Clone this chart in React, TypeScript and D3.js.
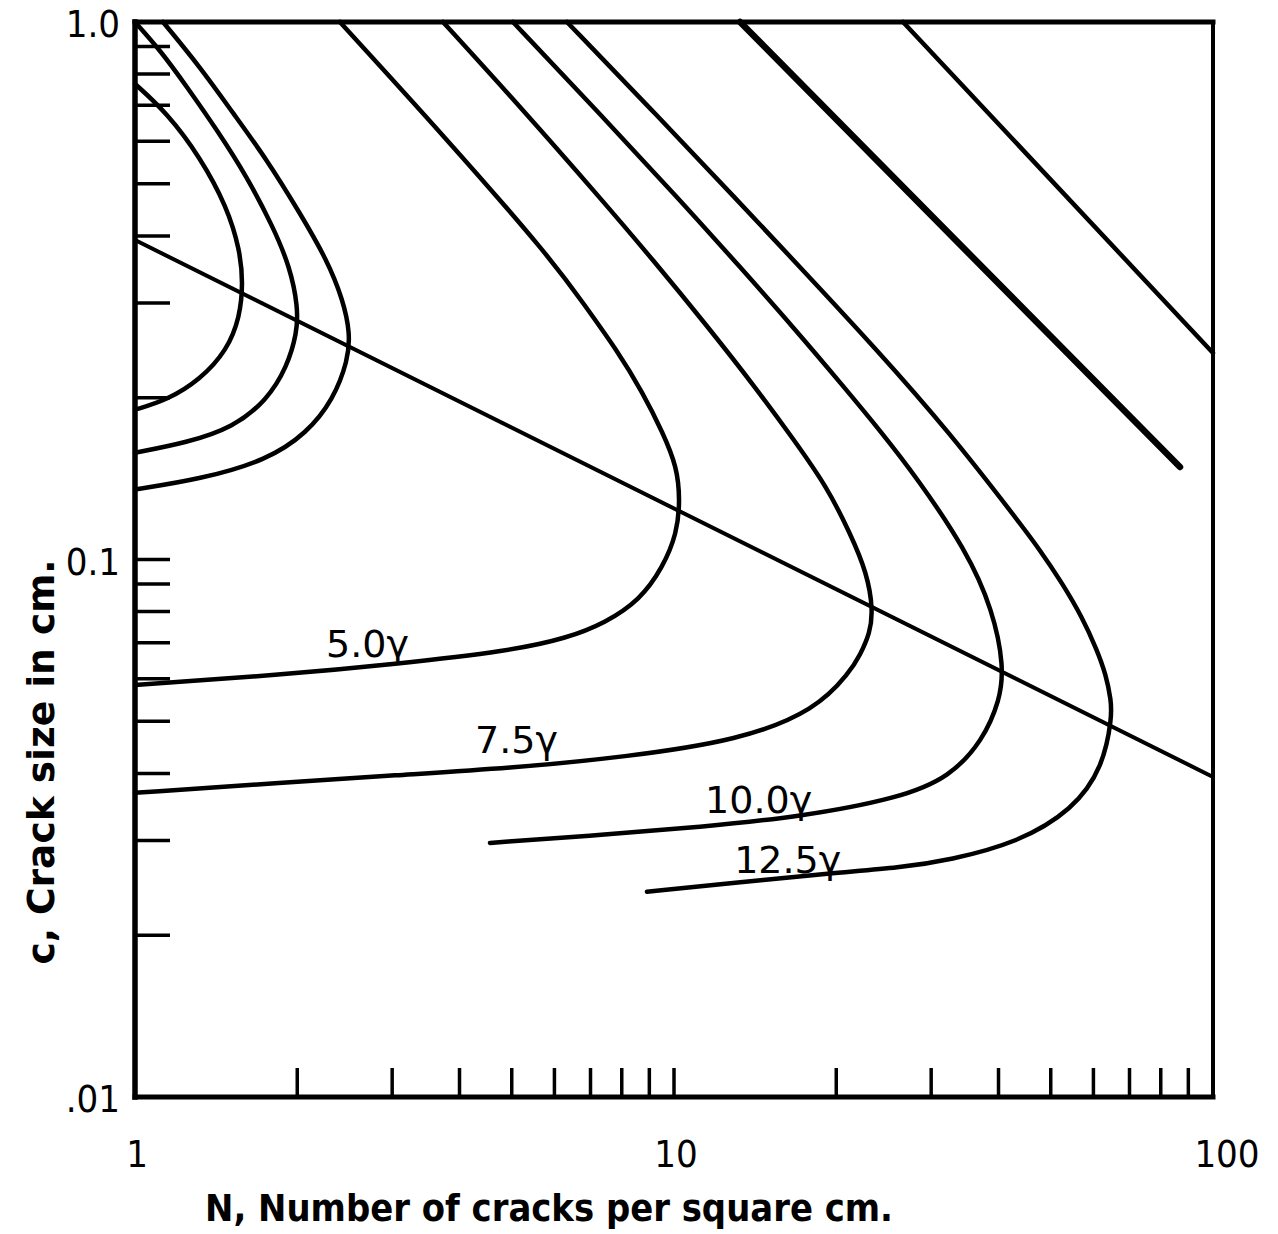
import * as d3 from "d3";

// N, number of cracks per square cm (x)  /  c, crack size in cm (y)
const xTicks = [2, 3, 4, 5, 6, 7, 8, 9, 10, 20, 30, 40, 50, 60, 70, 80, 90];
const xLabelValues = [1, 10, 100];
const xLabelText = ["1", "10", "100"];
const yTicks = [0.9, 0.8, 0.7, 0.6, 0.5, 0.4, 0.3, 0.2, 0.1, 0.09, 0.08, 0.07, 0.06, 0.05, 0.04, 0.03, 0.02];
const yLabelValues = [1, 0.1, 0.01];
const yLabelText = ["1.0", "0.1", ".01"];

type Pt = [number, number];

// three small loops near the origin
const loopA: Pt[] = [
  [1, 0.767], [1.147, 0.677], [1.32, 0.561], [1.482, 0.453], [1.566, 0.376], [1.586, 0.327],
  [1.566, 0.283], [1.482, 0.245], [1.32, 0.216], [1.147, 0.198], [1, 0.19],
];
const loopB: Pt[] = [
  [1, 1], [1.113, 0.887], [1.249, 0.757], [1.419, 0.63], [1.614, 0.515], [1.803, 0.416],
  [1.939, 0.35], [2.006, 0.295], [1.998, 0.264], [1.914, 0.228], [1.758, 0.198], [1.52, 0.176],
  [1.249, 0.165], [1, 0.158],
];
const loopC: Pt[] = [
  [1.127, 1], [1.32, 0.825], [1.52, 0.677], [1.758, 0.554], [2.023, 0.441], [2.271, 0.361],
  [2.432, 0.304], [2.506, 0.264], [2.485, 0.235], [2.33, 0.198], [2.085, 0.172], [1.758, 0.153],
  [1.32, 0.141], [1, 0.135],
];

// labelled curves
const curve50: Pt[] = [
  [2.4, 1], [3.76, 0.611], [5.888, 0.365], [6.78, 0.3], [7.84, 0.245], [8.76, 0.204], [9.54, 0.172],
  [10.13, 0.1486], [10.26, 0.129], [10.13, 0.112], [9.54, 0.0968], [8.65, 0.0841], [7.45, 0.0762],
  [6.33, 0.0714], [4.96, 0.0676], [3.04, 0.0639], [1.858, 0.061], [1, 0.0584],
];
const curve75: Pt[] = [
  [3.727, 1], [5.27, 0.683], [7.35, 0.4665], [9.14, 0.361], [11.56, 0.2708], [14.14, 0.2094],
  [16.7, 0.1668], [19.23, 0.1364], [21.21, 0.112], [22.81, 0.0944], [23.4, 0.0805], [23.1, 0.073],
  [22.14, 0.0664], [21.21, 0.0618], [18.34, 0.0525], [13.26, 0.0461], [8.11, 0.0429], [4.96, 0.0409],
  [3.04, 0.0397], [1.858, 0.0384], [1, 0.0368],
];
const curve100: Pt[] = [
  [5.025, 1], [7.17, 0.686], [10.26, 0.4665], [13.26, 0.35], [16.63, 0.2708], [20.67, 0.2094],
  [24.32, 0.1719], [28.24, 0.1418], [34.82, 0.1042], [39.06, 0.0805], [40.94, 0.0631], [40.25, 0.0548],
  [37.43, 0.0461], [32.51, 0.0394], [26.26, 0.036], [17.13, 0.0332], [11.17, 0.0318], [7.29, 0.0307],
  [4.556, 0.0297],
];
const curve125: Pt[] = [
  [6.33, 1], [9.1, 0.686], [13.09, 0.4665], [17.13, 0.35], [23.81, 0.2454], [32.51, 0.1719],
  [42.93, 0.12], [47.75, 0.1042], [52.48, 0.0904], [57.15, 0.0782], [60.92, 0.0679], [63.31, 0.061],
  [64.68, 0.0548], [64.94, 0.0509], [62.5, 0.0411], [55.0, 0.0342], [43.29, 0.0297],
  [32.51, 0.0276], [26.26, 0.0267], [19.72, 0.0261], [12.87, 0.025], [8.91, 0.0241],
];

// straight lines
const heavyLine: Pt[] = [[13.26, 1], [86.85, 0.1486]];
const cornerLine: Pt[] = [[26.6, 1], [100, 0.2422]];
const locusLine: Pt[] = [[1, 0.393], [100, 0.0394]];

const curveLabels = ["5.0γ", "7.5γ", "10.0γ", "12.5γ"];
const curveLabelAt: Pt[] = [[2.262, 0.0659], [4.273, 0.0437], [11.42, 0.0338], [12.93, 0.0261]];

const W = 1278;
const H = 1234;
const left = 135, right = 1213, top = 22, bottom = 1097;

export default function App() {
  const x = d3.scaleLog().domain([1, 100]).range([left, right]);
  const y = d3.scaleLog().domain([0.01, 1]).range([bottom, top]);

  // hand-drawn curves: a B-spline irons out reading noise
  const smooth = d3
    .line<Pt>()
    .x((d) => x(d[0]))
    .y((d) => y(d[1]))
    .curve(d3.curveBasis);
  const straight = d3
    .line<Pt>()
    .x((d) => x(d[0]))
    .y((d) => y(d[1]));

  const curves = [loopA, loopB, loopC, curve50, curve75, curve100, curve125];
  const font = "'DejaVu Sans', 'Liberation Sans', sans-serif";

  return (
    <svg
      width={W}
      height={H}
      style={{ position: "absolute", left: 0, top: 0, background: "#fff" }}
    >
      <rect width={W} height={H} fill="#fff" />

      {/* frame */}
      <g stroke="#000" strokeLinecap="square">
        <line x1={left} y1={top} x2={left} y2={bottom} strokeWidth={5.5} />
        <line x1={left} y1={bottom} x2={right} y2={bottom} strokeWidth={5} />
        <line x1={left} y1={top} x2={right} y2={top} strokeWidth={5} />
        <line x1={right} y1={top} x2={right} y2={bottom} strokeWidth={4} />
      </g>

      {/* ticks */}
      <g stroke="#000" strokeWidth={3.5}>
        {xTicks.map((t) => (
          <line key={"x" + t} x1={x(t)} x2={x(t)} y1={bottom} y2={bottom - 29} />
        ))}
        {yTicks.map((t) => (
          <line key={"y" + t} x1={left} x2={left + 35} y1={y(t)} y2={y(t)} />
        ))}
      </g>

      {/* tick labels */}
      <g fontFamily={font} fontSize={38} fontStretch="condensed" fill="#000">
        {xLabelValues.map((v, i) => (
          <text
            key={"xl" + v}
            x={x(v)}
            dx={i === xLabelValues.length - 1 ? 14 : 2}
            y={bottom + 70}
            textAnchor="middle"
          >
            {xLabelText[i]}
          </text>
        ))}
        {yLabelValues.map((v, i) => (
          <text key={"yl" + v} x={left - 15} y={y(v) + 15} textAnchor="end">
            {yLabelText[i]}
          </text>
        ))}
      </g>

      {/* curves */}
      <g fill="none" stroke="#000" strokeWidth={4.5} strokeLinecap="round" strokeLinejoin="round">
        {curves.map((c, i) => (
          <path key={"c" + i} d={smooth(c) ?? undefined} />
        ))}
        <path d={straight(cornerLine) ?? undefined} />
        <path d={straight(locusLine) ?? undefined} strokeWidth={4} />
        <path d={straight(heavyLine) ?? undefined} strokeWidth={6.5} />
      </g>

      {/* curve labels */}
      <g fontFamily={font} fontSize={38} fill="#000">
        {curveLabels.map((t, i) => (
          <text key={t} x={x(curveLabelAt[i][0])} y={y(curveLabelAt[i][1])}>
            {t}
          </text>
        ))}
      </g>

      {/* axis titles */}
      <text
        x={549}
        y={1221}
        textAnchor="middle"
        fontFamily={font}
        fontWeight="bold"
        fontSize={38}
        textLength={688}
        lengthAdjust="spacingAndGlyphs"
      >
        N, Number of cracks per square cm.
      </text>
      <text
        transform="translate(54,762) rotate(-90)"
        textAnchor="middle"
        fontFamily={font}
        fontWeight="bold"
        fontSize={38}
        textLength={405}
        lengthAdjust="spacingAndGlyphs"
      >
        c, Crack size in cm.
      </text>
    </svg>
  );
}
